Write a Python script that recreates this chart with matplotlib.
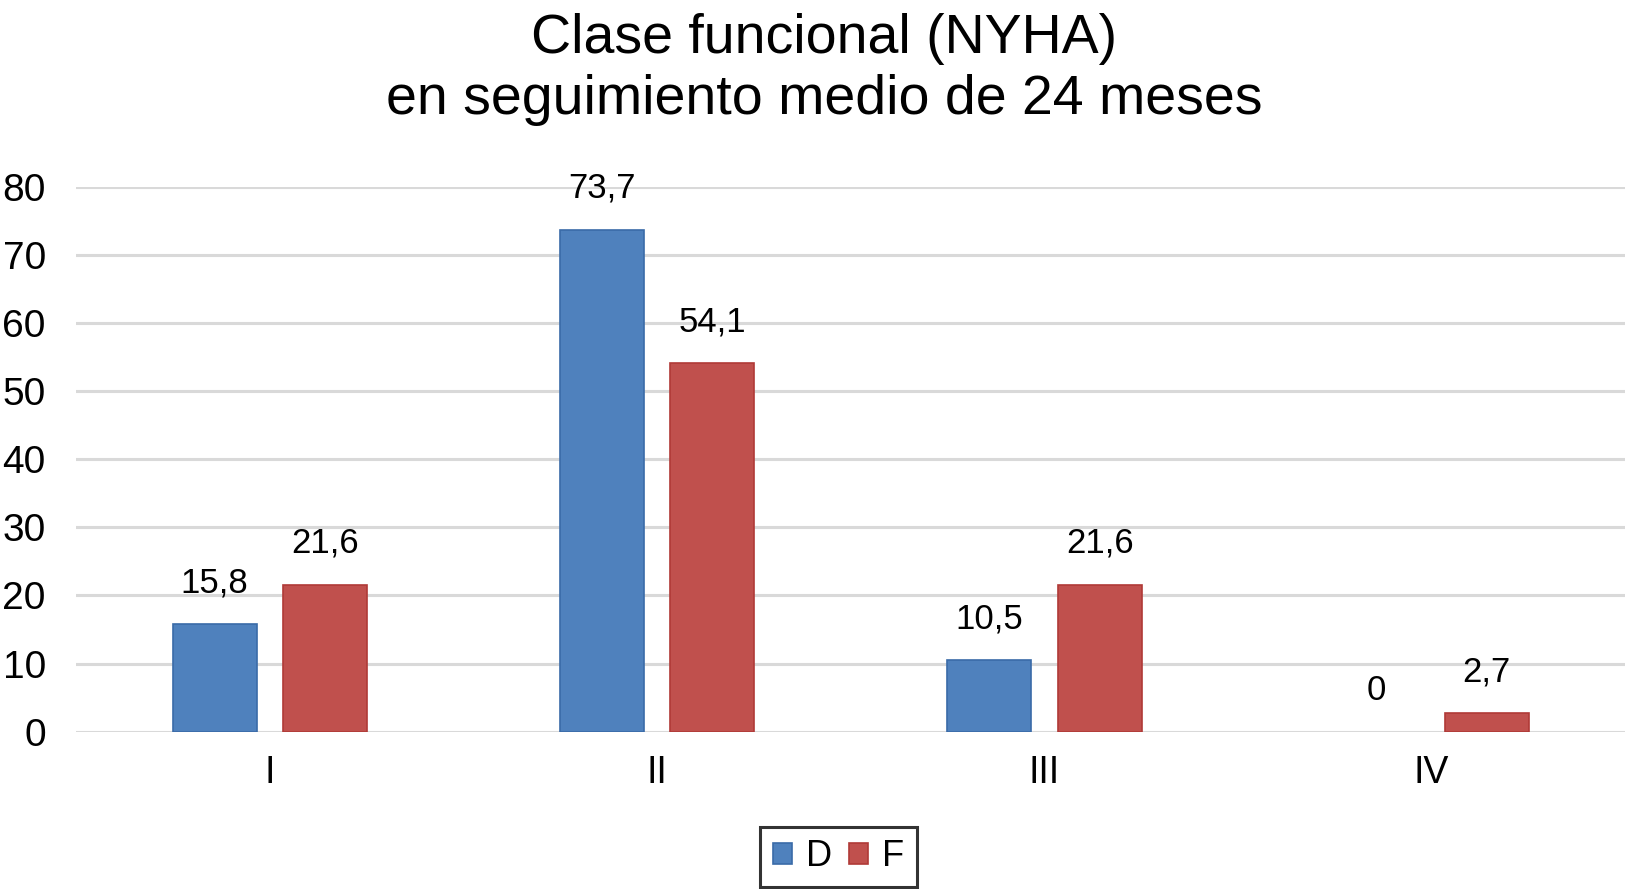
import matplotlib
matplotlib.use('Agg')
import matplotlib.pyplot as plt
import numpy as np

plt.rcParams['font.family'] = ['Liberation Sans', 'DejaVu Sans']

# data
categories = ['I', 'II', 'III', 'IV']
serie_d = [15.8, 73.7, 10.5, 0]
serie_f = [21.6, 54.1, 21.6, 2.7]
etiquetas_d = ['15,8', '73,7', '10,5', '0']
etiquetas_f = ['21,6', '54,1', '21,6', '2,7']
yticks = [0, 10, 20, 30, 40, 50, 60, 70, 80]

color_d = '#4F81BD'
color_f = '#C0504D'

fig = plt.figure(figsize = (16.25, 8.89), dpi = 100)
ax = fig.add_axes([0.047, 0.177, 0.953, 0.613])

x = np.arange(len(categories))
width = 0.217
off = 0.143

# no outline on an empty bar (IV, D = 0)
lw_d = [1.2 if v > 0 else 0 for v in serie_d]
lw_f = [1.2 if v > 0 else 0 for v in serie_f]
ax.bar(x - off, serie_d, width, color = color_d, edgecolor = '#3A6BA8', linewidth = lw_d, label = 'D', zorder = 3)
ax.bar(x + off, serie_f, width, color = color_f, edgecolor = '#B03A37', linewidth = lw_f, label = 'F', zorder = 3)

# value labels above the bars
for i in range(len(categories)):
    ax.text(x[i] - off, serie_d[i] + 4.7, etiquetas_d[i], ha = 'center', va = 'baseline', fontsize = 25)
    ax.text(x[i] + off, serie_f[i] + 4.7, etiquetas_f[i], ha = 'center', va = 'baseline', fontsize = 25)

ax.set_xlim(-0.5, 3.5)
ax.set_ylim(0, 80)
ax.set_yticks(yticks)
ax.set_xticks(x)
ax.set_xticklabels(categories)
ax.yaxis.grid(True, color = '#D9D9D9', linewidth = 2.2, zorder = 0)
ax.set_axisbelow(True)
for s in ax.spines.values():
    s.set_visible(False)
ax.tick_params(axis = 'y', length = 0, pad = 22, labelsize = 28)
ax.tick_params(axis = 'x', length = 0, pad = 17, labelsize = 27)

fig.text(0.507, 0.985, 'Clase funcional (NYHA)\nen seguimiento medio de 24 meses',
         ha = 'center', va = 'top', fontsize = 40, linespacing = 1.22)

leg = fig.legend(loc = 'center', bbox_to_anchor = (0.516, 0.036), ncol = 2, fontsize = 26,
                 handlelength = 0.53, handleheight = 0.53, handletextpad = 0.4,
                 columnspacing = 0.45, fancybox = False, borderpad = 0.35, borderaxespad = 0)
leg.get_frame().set_edgecolor('black')
leg.get_frame().set_linewidth(2.2)

fig.savefig('out.png', dpi = 100)
plt.close()
